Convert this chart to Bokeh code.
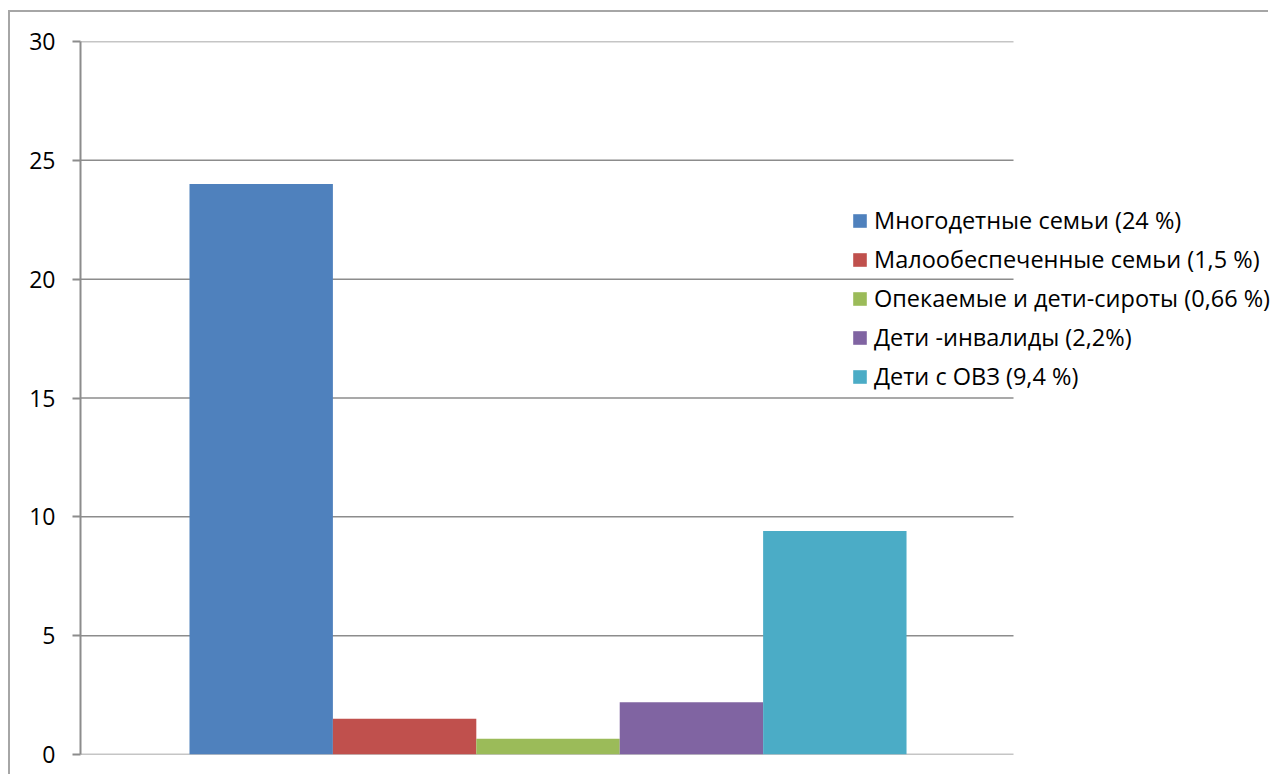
from bokeh.plotting import figure
from bokeh.models import Range1d, Legend, LegendItem, ColumnDataSource
from bokeh.embed import file_html
from bokeh.resources import INLINE

series = ["Многодетные семьи (24 %)", "Малообеспеченные семьи (1,5 %)",
          "Опекаемые и дети-сироты (0,66 %)", "Дети -инвалиды (2,2%)", "Дети с ОВЗ (9,4 %)"]
values = [24, 1.5, 0.66, 2.2, 9.4]
colors = ["#4F81BD", "#C0504D", "#9BBB59", "#8064A2", "#4BACC6"]
y_ticks = [0, 5, 10, 15, 20, 25, 30]

FONT = "Open Sans"
GRID = "#8c8c8c"

# layout constants (x in bar units): the frame is widened so the legend is not clipped,
# the horizontal gridlines stop at the original plot-area edge
X_START = -1.26
X_END = 7.038
PLOT_RIGHT = 5.246

p = figure(width=1260, height=764, output_backend="svg", toolbar_location=None,
           x_range=Range1d(X_START, X_END), y_range=Range1d(0, 30),
           min_border_left=70, min_border_top=29, min_border_right=0, min_border_bottom=22)
p.styles = {"border-left": "2px solid #a6a6a6", "border-top": "2px solid #a6a6a6",
            "margin-top": "10px", "margin-left": "8px"}
p.outline_line_color = None
p.background_fill_color = "white"
p.border_fill_color = "white"
p.xaxis.visible = False
p.xgrid.visible = False
p.ygrid.visible = False

p.yaxis.ticker = y_ticks
p.yaxis.axis_line_color = GRID
p.yaxis.axis_line_width = 2
p.yaxis.major_tick_line_color = GRID
p.yaxis.major_tick_line_width = 2
p.yaxis.major_tick_out = 8
p.yaxis.major_tick_in = 0
p.yaxis.minor_tick_line_color = None
p.yaxis.major_label_text_font = FONT
p.yaxis.major_label_text_font_size = "23px"
p.yaxis.major_label_text_color = "black"
p.yaxis.major_label_standoff = 17

# horizontal gridlines at the tick values, limited to the plot area
p.segment(x0=[X_START] * len(y_ticks), x1=[PLOT_RIGHT] * len(y_ticks), y0=y_ticks, y1=y_ticks,
          line_color=GRID, line_width=1.5)

items = []
for i, (name, v, c) in enumerate(zip(series, values, colors)):
    src = ColumnDataSource(dict(x=[i], top=[v]))
    r = p.vbar(x="x", top="top", bottom=0, width=1.0, source=src, fill_color=c, line_color=None)
    items.append(LegendItem(label=name, renderers=[r]))

legend = Legend(items=items, location=(771, 362), padding=0, margin=0,
                border_line_color=None, background_fill_alpha=0,
                glyph_width=17, glyph_height=17, label_height=20, spacing=7,
                label_standoff=6, label_text_font=FONT, label_text_font_size="23.5px",
                label_text_color="black")
p.add_layout(legend, "center")

open("out.html", "w").write(file_html(p, INLINE))
